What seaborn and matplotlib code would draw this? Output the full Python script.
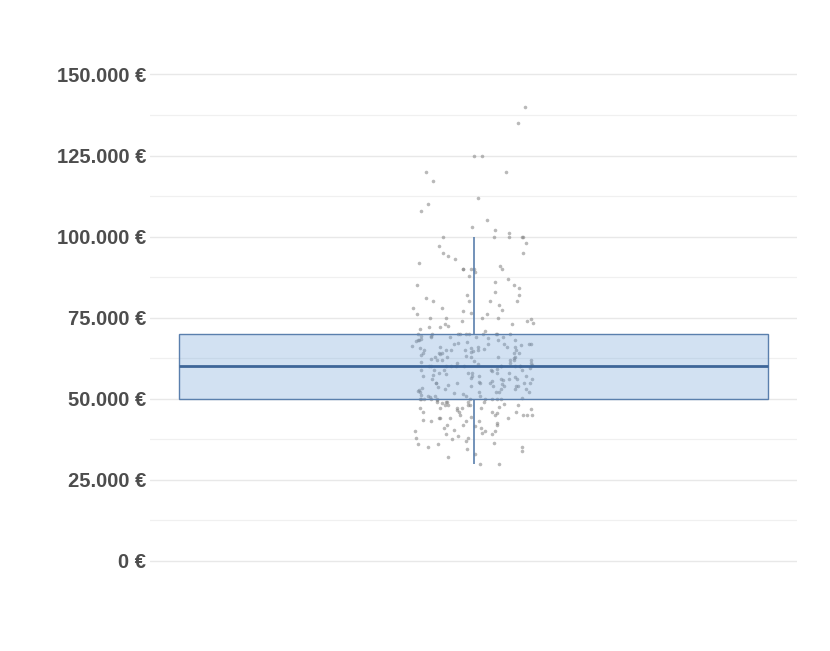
import numpy as np
import pandas as pd
import matplotlib
matplotlib.use("Agg")
import matplotlib.pyplot as plt
import matplotlib.ticker as mticker
import seaborn as sns

# salaries in thousands of euros
below_50k = [30, 30, 32, 33, 34, 35, 35, 36, 36, 37,
             38, 38, 39, 39, 40, 40, 40, 41, 41, 42,
             42, 42, 43, 43, 43, 44, 44, 44, 45, 45,
             45, 45, 45, 46, 46, 46, 46, 47, 47, 47,
             47, 48, 48, 48, 48, 48, 49, 49, 49, 49,
             49, 49.5, 41.5, 43.5, 44.5, 46.5, 47.5, 48.5, 42.5, 45.5,
             38.5, 36.5, 40.5, 39.5, 37.5, 34.5, 47.2, 48.8, 46.8, 44.2]
at_50k = [50] * 10
band_50_60 = [51, 51, 51, 52, 52, 52, 52, 53, 53, 53,
              53, 54, 54, 54, 54, 55, 55, 55, 55, 55,
              55, 56, 56, 56, 56, 57, 57, 57, 57, 58,
              58, 58, 58, 59, 59, 59, 59, 50.5, 51.5, 52.5,
              53.5, 54.5, 55.5, 56.5, 57.5, 58.5, 59.5, 50.8, 51.2, 52.8,
              53.2, 54.8, 55.2, 56.8, 57.2, 58.8, 59.2, 50.2, 51.8, 52.2,
              53.8, 54.2, 55.8, 56.2, 57.8]
at_60k = [60] * 10
band_60_70 = [61, 61, 61, 62, 62, 62, 62, 63, 63, 63,
              63, 64, 64, 64, 64, 65, 65, 65, 65, 65,
              65, 66, 66, 66, 66, 67, 67, 67, 67, 68,
              68, 68, 68, 69, 69, 69, 69, 60.5, 61.5, 62.5,
              63.5, 64.5, 65.5, 66.5, 67.5, 68.5, 69.5, 60.8, 61.2, 62.8,
              63.2, 64.8, 65.2, 66.8, 67.2, 68.8, 69.2, 60.2, 61.8, 62.2,
              63.8, 64.2, 65.8, 66.2, 67.8]
at_70k = [70] * 10
band_70_80 = [71, 72, 72, 73, 73, 74, 74, 75, 75, 75, 75, 76,
              76, 77, 78, 78, 79, 71.5, 72.5, 73.5, 74.5, 76.5, 77.5]
band_80_90 = [80, 80, 80, 80, 85, 85, 84, 83, 82, 86, 88, 87, 81, 89, 82]
band_90_100 = [98, 97, 95, 95, 93, 92, 91, 90, 90, 90, 90, 90, 94,
               100, 100, 100, 100, 100]
outliers = [140, 135, 125, 125, 120, 120, 117, 112, 110, 108, 105, 103, 102, 101]

y_ticks = [0, 25000, 50000, 75000, 100000, 125000, 150000]

salaries = np.array(below_50k + at_50k + band_50_60 + at_60k + band_60_70 + at_70k
                    + band_70_80 + band_80_90 + band_90_100 + outliers) * 1000
df = pd.DataFrame({"Gehalt": salaries, "grp": "a"})

sns.set_style("white")
plt.rcParams["font.family"] = ["Liberation Sans", "DejaVu Sans"]

fig = plt.figure(figsize=(8.3, 6.51), dpi=100)
ax = fig.add_axes([0.181, 0.101, 0.779, 0.822])

np.random.seed(3)
sns.stripplot(data=df, x="grp", y="Gehalt", jitter=0.095, size=2.6, color="#808080",
              alpha=0.55, linewidth=0, ax=ax, zorder=2)
sns.boxplot(data=df, x="grp", y="Gehalt", width=0.91, showcaps=False, showfliers=False,
            boxprops=dict(facecolor=(0.45, 0.64, 0.85, 0.32), edgecolor="#5a7fad", linewidth=1),
            medianprops=dict(color="#3e6699", linewidth=2),
            whiskerprops=dict(color="#5a7fad", linewidth=1.2),
            ax=ax, zorder=3)

ax.set_ylim(-7500, 157500)
ax.set_xlim(-0.5, 0.5)
ax.set_yticks(y_ticks)
ax.yaxis.set_minor_locator(mticker.MultipleLocator(12500))
ax.yaxis.set_major_formatter(mticker.FuncFormatter(
    lambda v, p: f"{int(v):,}".replace(",", ".") + " €"))
ax.grid(True, which="major", axis="y", color="#e8e8e8", linewidth=1.0, zorder=0)
ax.grid(True, which="minor", axis="y", color="#f0f0f0", linewidth=0.9, zorder=0)
ax.set_axisbelow(True)
ax.tick_params(axis="y", which="both", length=0, pad=3, labelsize=14.5, labelcolor="#4d4d4d")
for lab in ax.get_yticklabels():
    lab.set_fontweight("bold")
ax.set_xticks([])
ax.set_xlabel("")
ax.set_ylabel("")
for s in ax.spines.values():
    s.set_visible(False)

fig.savefig("out.png", dpi=100, facecolor="white")
